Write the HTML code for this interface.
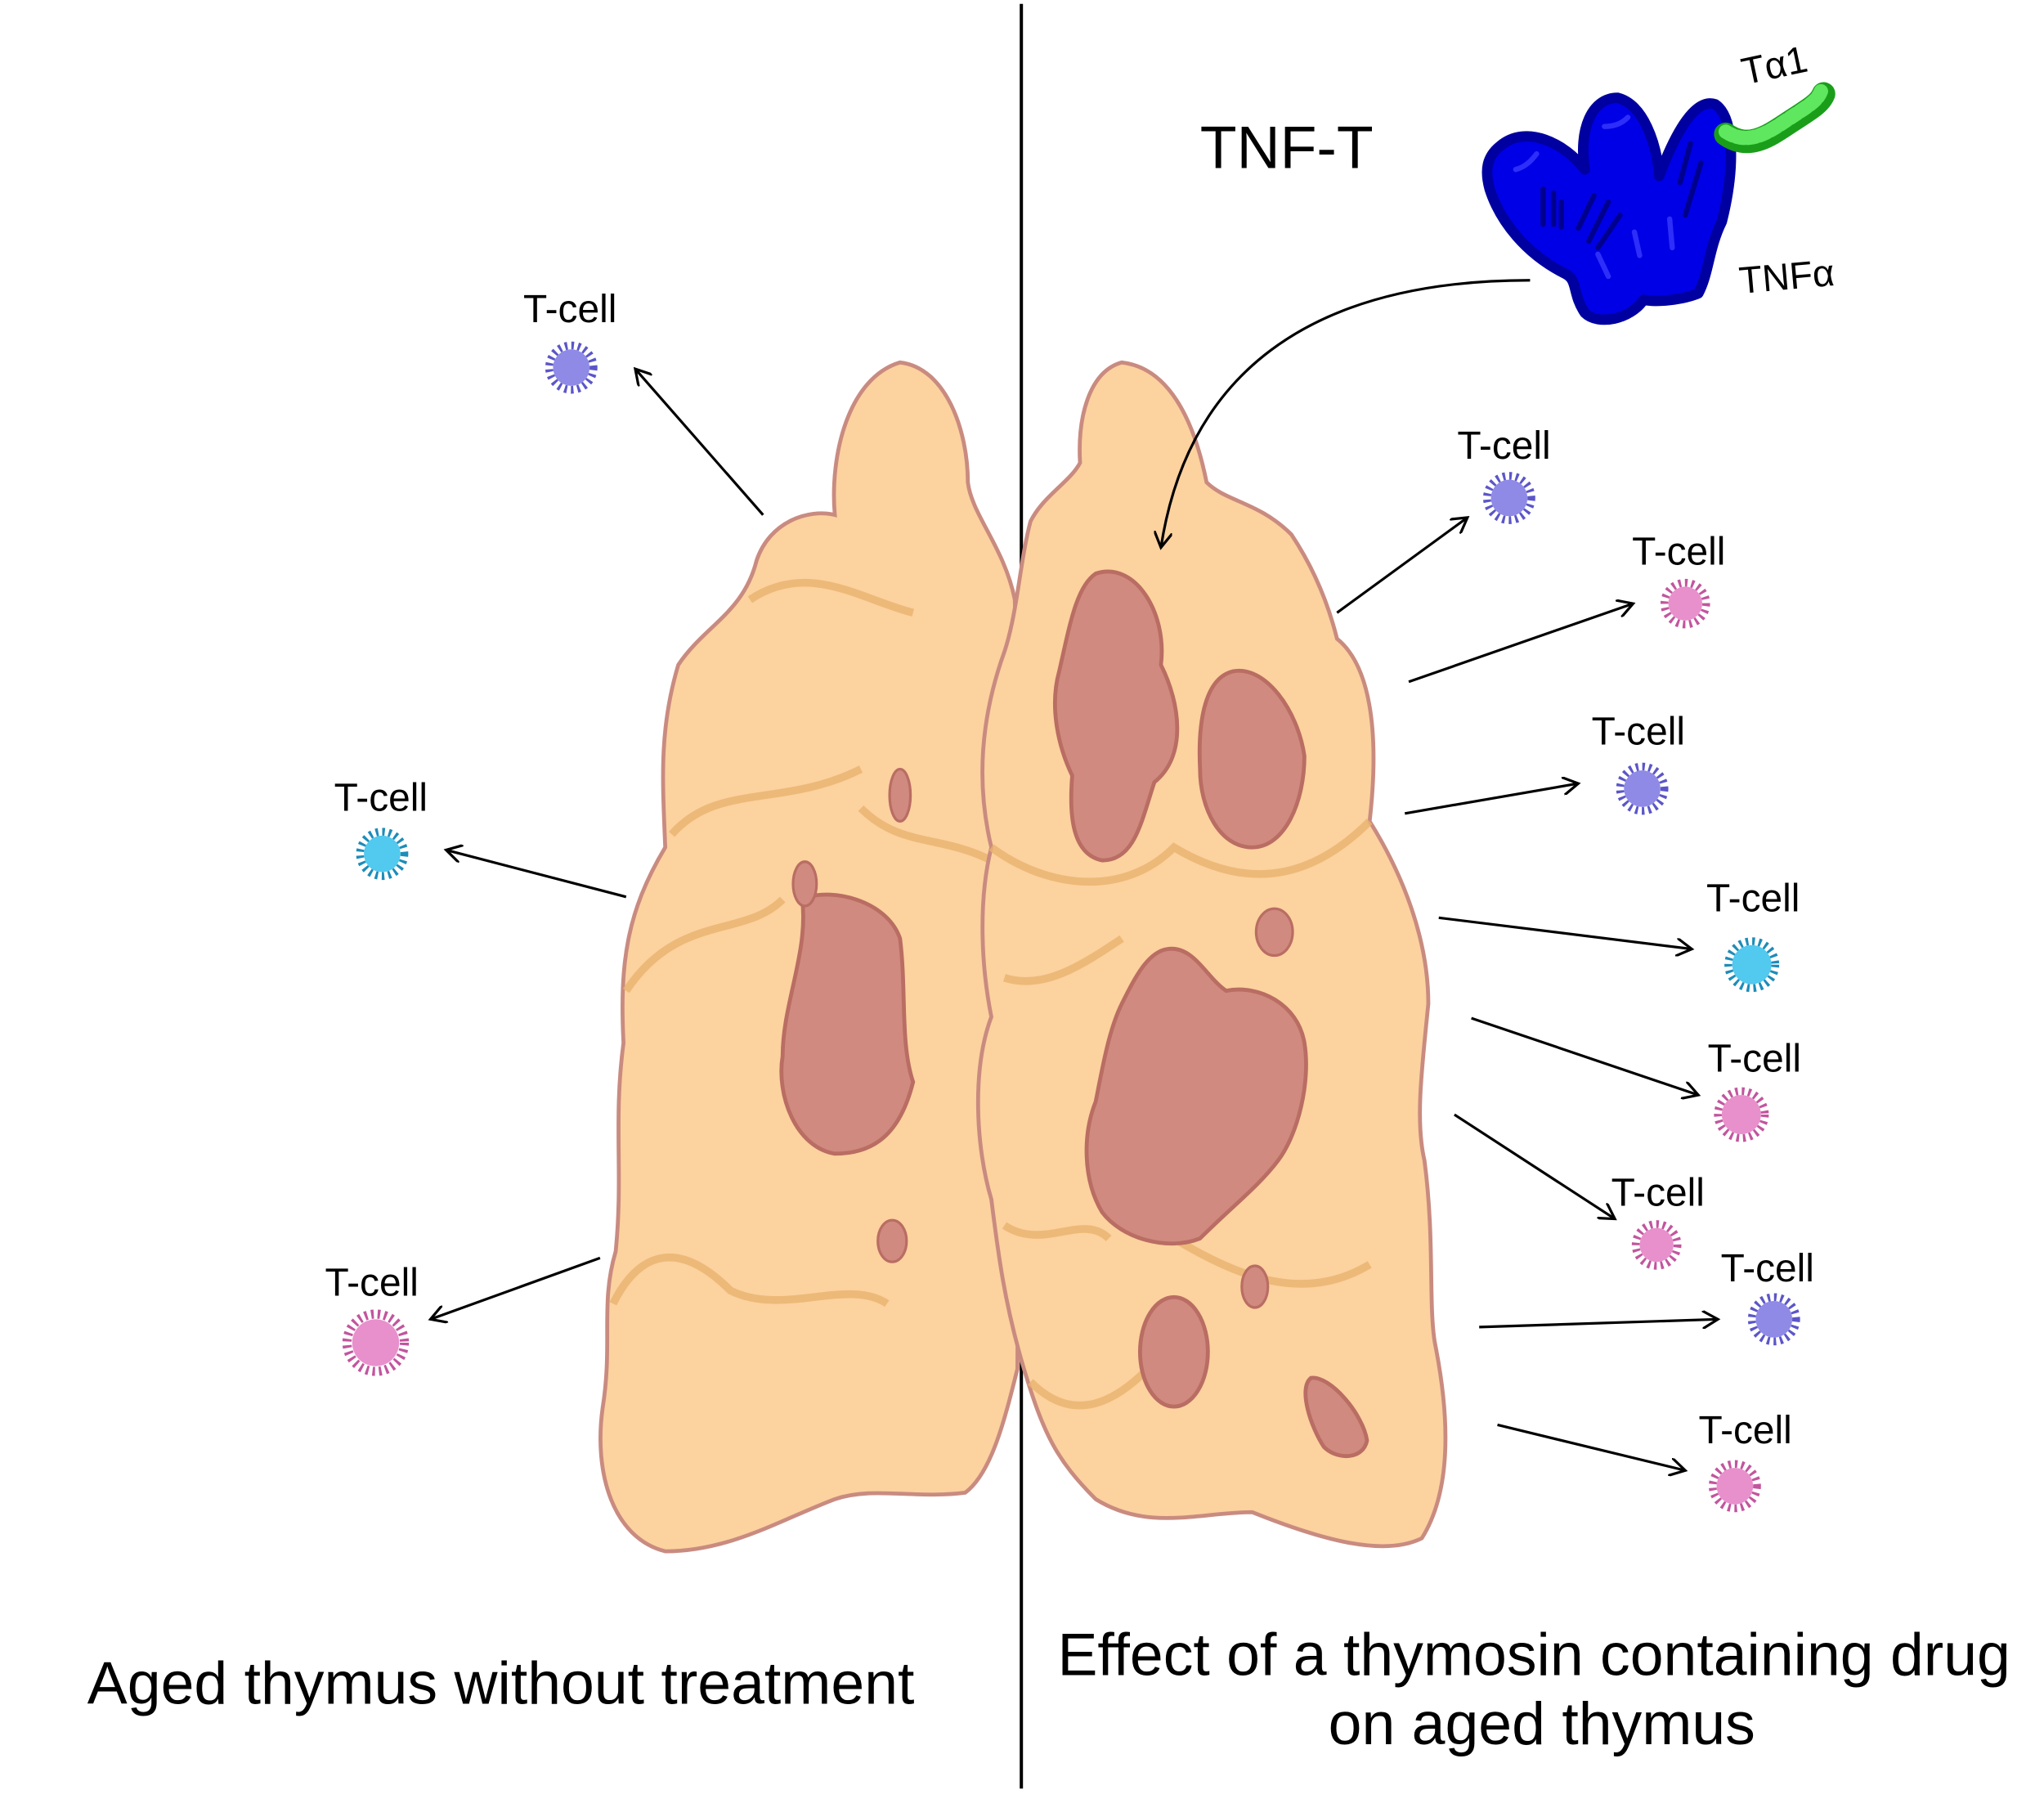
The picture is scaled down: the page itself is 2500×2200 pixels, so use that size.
<!DOCTYPE html>
<html><head><meta charset="utf-8"><style>
html,body{margin:0;padding:0;background:#fff}
svg{display:block}
text{font-family:"Liberation Sans",sans-serif;fill:#000}
</style></head><body>
<svg width="2500" height="2200" viewBox="0 0 1567 1380" preserveAspectRatio="none" xmlns="http://www.w3.org/2000/svg">
<defs>
<marker id="ah" markerWidth="14" markerHeight="14" refX="12" refY="7" orient="auto" markerUnits="userSpaceOnUse" viewBox="0 0 14 14">
<polyline points="0,0 12,7 0,14" fill="none" stroke="#000" stroke-width="2"/>
</marker>
</defs>
<rect width="1567" height="1380" fill="#fff"/>
<line x1="783" y1="3" x2="783" y2="1372" stroke="#000" stroke-width="2.5"/>

<!-- left lobe -->
<path d="M690,278 C725,282 742,330 742,370 C745,395 770,420 778,460 L782,640 L780,1050 C770,1090 760,1130 740,1145 C700,1150 670,1140 640,1150 C600,1165 560,1190 510,1190 C470,1180 455,1130 462,1080 C470,1030 460,1000 472,960 C478,900 470,860 478,800 C475,740 480,700 510,650 C508,600 505,560 520,510 C540,480 570,470 580,430 C590,400 620,390 640,395 C636,350 650,290 690,278 Z" fill="#fcd29f" stroke="#c98b80" stroke-width="3"/>
<path d="M470,1000 C490,960 520,950 560,990 C600,1010 650,980 680,1000 M480,760 C520,700 570,720 600,690 M515,640 C550,600 600,620 660,590 M660,620 C690,650 720,640 760,660 M575,460 C620,430 660,460 700,470" fill="none" stroke="#e9b36e" stroke-width="6" opacity="0.8"/>
<path d="M615,690 C635,680 680,690 690,720 C695,760 690,800 700,830 C690,870 670,885 640,885 C610,880 595,840 600,810 C600,770 620,730 615,690 Z" fill="#d08a7f" stroke="#b96d63" stroke-width="3"/>
<ellipse cx="617" cy="678" rx="9" ry="17" fill="#d08a7f" stroke="#b96d63" stroke-width="2"/>
<ellipse cx="690" cy="610" rx="8" ry="20" fill="#d08a7f" stroke="#b96d63" stroke-width="2"/>
<ellipse cx="684" cy="952" rx="11" ry="16" fill="#d08a7f" stroke="#b96d63" stroke-width="2"/>

<!-- right lobe -->
<path d="M860,278 C895,282 915,320 925,370 C940,385 965,385 990,410 C1010,440 1020,470 1025,490 C1050,510 1058,560 1050,630 C1075,670 1095,720 1095,770 C1090,820 1085,860 1092,890 C1100,950 1095,1000 1100,1030 C1110,1080 1115,1140 1090,1180 C1060,1195 1010,1180 960,1160 C920,1160 880,1175 840,1150 C810,1120 800,1100 785,1050 C770,1000 765,960 760,920 C748,880 745,820 760,780 C752,740 750,690 760,650 C748,600 752,550 770,500 C780,470 782,430 790,400 C800,380 820,370 828,355 C826,320 835,285 860,278 Z" fill="#fcd29f" stroke="#c98b80" stroke-width="3"/>
<path d="M760,650 C800,680 860,690 900,650 C950,680 1000,680 1050,630 M770,750 C800,760 830,740 860,720 M770,940 C800,960 830,930 850,950 M900,950 C950,980 1000,1000 1050,970 M790,1060 C820,1090 850,1080 880,1050" fill="none" stroke="#e9b36e" stroke-width="6" opacity="0.8"/>
<path d="M840,440 C870,430 895,470 890,510 C905,540 910,580 885,600 C875,630 870,660 845,660 C820,655 820,620 822,595 C810,570 805,540 812,515 C820,480 825,450 840,440 Z" fill="#d08a7f" stroke="#b96d63" stroke-width="3"/>
<path d="M945,515 C970,510 995,545 1000,580 C1000,615 985,650 960,650 C935,650 920,620 920,590 C918,550 925,520 945,515 Z" fill="#d08a7f" stroke="#b96d63" stroke-width="3"/>
<ellipse cx="977" cy="715" rx="14" ry="18" fill="#d08a7f" stroke="#b96d63" stroke-width="2"/>
<path d="M895,728 C915,725 925,750 940,760 C965,755 995,770 1000,800 C1005,830 995,870 980,890 C965,910 945,925 920,950 C895,960 860,950 845,930 C830,905 830,870 840,845 C845,820 850,790 860,770 C870,750 880,730 895,728 Z" fill="#d08a7f" stroke="#b96d63" stroke-width="3"/>
<ellipse cx="962" cy="987" rx="10" ry="16" fill="#d08a7f" stroke="#b96d63" stroke-width="2"/>
<ellipse cx="900" cy="1037" rx="26" ry="42" fill="#d08a7f" stroke="#b96d63" stroke-width="3"/>
<path d="M1005,1057 C1020,1055 1045,1085 1048,1105 C1045,1120 1025,1120 1015,1110 C1005,1095 995,1065 1005,1057 Z" fill="#d08a7f" stroke="#b96d63" stroke-width="3"/>

<!-- TNF alpha -->
<g stroke="#0000a0" stroke-width="8" stroke-linejoin="round" fill="#0000e6">
<path d="M1150,112 C1170,95 1200,110 1215,130 C1210,100 1220,75 1240,75 C1260,80 1270,110 1272,135 C1285,100 1300,75 1315,80 C1330,90 1330,130 1320,170 C1310,190 1310,210 1302,225 C1290,230 1270,232 1260,230 C1250,245 1225,250 1215,240 C1205,225 1210,215 1200,210 C1170,195 1150,170 1142,145 C1138,130 1140,120 1150,112 Z"/>
</g>
<g stroke="#00008e" stroke-width="4" stroke-linecap="round" fill="none">
<path d="M1183,145 L1183,172 M1191,148 L1191,172 M1197,155 L1197,174 M1222,150 L1210,175 M1233,155 L1218,185 M1242,165 L1225,190 M1296,110 L1288,140 M1304,125 L1292,165"/>
</g>
<g stroke="#3a3aff" stroke-width="4" stroke-linecap="round" fill="none" opacity="0.8">
<path d="M1162,130 C1170,128 1175,122 1178,118 M1230,97 C1240,97 1245,93 1248,90 M1225,195 L1233,212 M1253,178 L1257,196 M1280,168 L1282,190"/>
</g>
<path d="M1323,103 C1340,115 1355,105 1370,95 C1385,85 1395,80 1398,72" fill="none" stroke="#1a9e1a" stroke-width="18" stroke-linecap="round"/>
<path d="M1323,101 C1340,112 1355,102 1370,92 C1385,82 1393,78 1396,70" fill="none" stroke="#5fe85f" stroke-width="11" stroke-linecap="round" stroke-dasharray="6 3"/>
<text x="1335" y="60" font-size="29" transform="rotate(-12 1360 50)">Tα1</text>
<text x="1333" y="222" font-size="29" transform="rotate(-5 1370 210)">TNFα</text>
<text x="920" y="129" font-size="46">TNF-T</text>

<!-- curved arrow -->
<path d="M1173,215 C1000,215 910,290 890,420" fill="none" stroke="#000" stroke-width="2" marker-end="url(#ah)"/>

<!-- straight arrows -->
<g stroke="#000" stroke-width="2" fill="none" marker-end="url(#ah)">
<line x1="585" y1="395" x2="487" y2="283"/>
<line x1="480" y1="688" x2="342" y2="652"/>
<line x1="460" y1="965" x2="330" y2="1012"/>
<line x1="1025" y1="470" x2="1125" y2="397"/>
<line x1="1080" y1="523" x2="1252" y2="463"/>
<line x1="1077" y1="624" x2="1210" y2="601"/>
<line x1="1103" y1="704" x2="1297" y2="728"/>
<line x1="1128" y1="781" x2="1302" y2="840"/>
<line x1="1115" y1="855" x2="1238" y2="935"/>
<line x1="1134" y1="1018" x2="1317" y2="1012"/>
<line x1="1148" y1="1093" x2="1292" y2="1128"/>
</g>

<!-- T-cells -->
<g>
<g transform="translate(438,282)"><circle r="17" fill="none" stroke="#5b56c8" stroke-width="6" stroke-dasharray="2 3"/><circle r="14" fill="#8f8ae6"/></g>
<g transform="translate(293,655)"><circle r="17" fill="none" stroke="#1d8cb8" stroke-width="6" stroke-dasharray="2 3"/><circle r="14" fill="#52c9ee"/></g>
<g transform="translate(288,1030)"><circle r="22" fill="none" stroke="#c2559e" stroke-width="7" stroke-dasharray="2 3"/><circle r="18" fill="#e890cc"/></g>
<g transform="translate(1157,382)"><circle r="17" fill="none" stroke="#5b56c8" stroke-width="6" stroke-dasharray="2 3"/><circle r="14" fill="#8f8ae6"/></g>
<g transform="translate(1292,463)"><circle r="16" fill="none" stroke="#c2559e" stroke-width="6" stroke-dasharray="2 3"/><circle r="13" fill="#e890cc"/></g>
<g transform="translate(1259,605)"><circle r="17" fill="none" stroke="#5b56c8" stroke-width="6" stroke-dasharray="2 3"/><circle r="14" fill="#8f8ae6"/></g>
<g transform="translate(1343,740)"><circle r="18" fill="none" stroke="#1d8cb8" stroke-width="6" stroke-dasharray="2 3"/><circle r="15" fill="#52c9ee"/></g>
<g transform="translate(1335,855)"><circle r="18" fill="none" stroke="#c2559e" stroke-width="6" stroke-dasharray="2 3"/><circle r="15" fill="#e890cc"/></g>
<g transform="translate(1270,955)"><circle r="16" fill="none" stroke="#c2559e" stroke-width="6" stroke-dasharray="2 3"/><circle r="13" fill="#e890cc"/></g>
<g transform="translate(1360,1012)"><circle r="17" fill="none" stroke="#5b56c8" stroke-width="6" stroke-dasharray="2 3"/><circle r="14" fill="#8f8ae6"/></g>
<g transform="translate(1330,1140)"><circle r="17" fill="none" stroke="#c2559e" stroke-width="6" stroke-dasharray="2 3"/><circle r="14" fill="#e890cc"/></g>
</g>

<g font-size="30" text-anchor="middle">
<text x="437" y="247">T-cell</text>
<text x="292" y="622">T-cell</text>
<text x="285" y="994">T-cell</text>
<text x="1153" y="352">T-cell</text>
<text x="1287" y="433">T-cell</text>
<text x="1256" y="571">T-cell</text>
<text x="1344" y="699">T-cell</text>
<text x="1345" y="822">T-cell</text>
<text x="1271" y="925">T-cell</text>
<text x="1355" y="983">T-cell</text>
<text x="1338" y="1107">T-cell</text>
</g>

<g font-size="46" text-anchor="middle">
<text x="384" y="1307">Aged thymus without treatment</text>
<text x="1176" y="1285">Effect of a thymosin containing drug</text>
<text x="1182" y="1338">on aged thymus</text>
</g>
</svg>
</body></html>
